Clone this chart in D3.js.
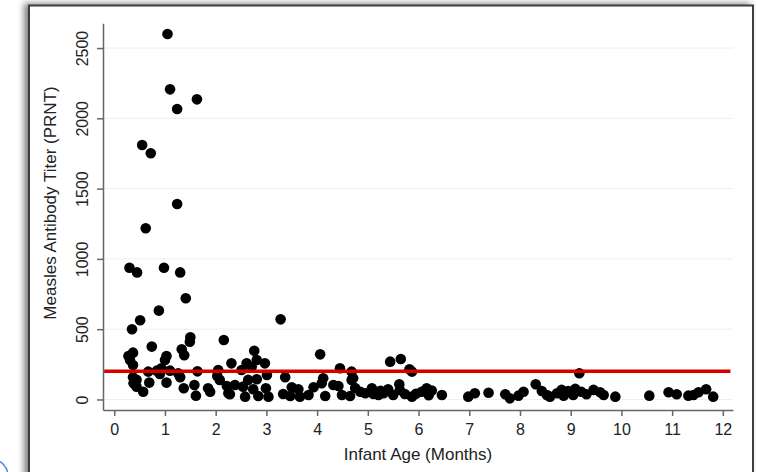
<!DOCTYPE html>
<html lang="en">
<head>
<meta charset="UTF-8" />
<script src="https://d3js.org/d3.v7.min.js"></script>
<title>Measles antibody titer by infant age</title>
<style>
    body { margin: 0; background: #fff; }
    .tick text { font-family: "Liberation Sans", Arial, sans-serif; font-size: 16px; fill: #222; }
    .axis-title { font-family: "Liberation Sans", Arial, sans-serif; font-size: 17px; fill: #222; }
    .grid line { stroke: #e8f1f2; stroke-width: 1; }
</style>
</head>
<body>
<svg id="chart" width="757" height="472"></svg>
<script>
    // infant age in months and PRNT titer
    const ageMonths = [
        1.05, 1.10, 1.63, 1.24, 0.55, 0.72, 1.24, 0.62, 0.30, 0.45, 0.98, 1.30, 1.41, 0.88, 0.51, 0.35, 3.28,
        2.16, 1.50, 1.49, 0.74, 1.33, 1.38, 1.03, 0.37, 0.28, 0.31, 1.00, 0.37, 0.67, 0.84, 0.93, 1.10, 1.26,
        0.90, 1.64, 2.05, 2.03, 0.37, 1.30, 0.38, 0.69, 1.03, 0.44, 0.57, 1.37, 1.58, 1.61, 1.85, 1.89, 2.08,
        2.25, 2.31, 0.44,
        2.76, 2.61, 2.81, 2.97, 2.71, 2.51, 3.37, 3.01, 2.64, 2.81, 2.22, 2.38, 2.54, 2.74, 2.99, 3.50, 3.63,
        3.93, 2.28, 2.58, 2.84, 3.04, 3.33, 3.47, 3.66, 3.83, 4.06, 4.45, 4.68, 4.12, 4.09, 4.32, 4.68, 4.42,
        4.16, 4.49, 4.65,
        5.44, 5.65, 5.82, 5.87, 4.75, 4.85, 5.08, 5.11, 5.31, 5.40, 5.50, 5.62, 5.63, 5.73, 5.87, 6.06, 6.16,
        6.26, 6.46, 6.98, 7.11, 4.71, 4.95, 5.21, 5.95, 6.20, 5.25,
        7.38, 7.71, 7.80, 7.97, 8.07, 8.31, 8.43, 8.59, 8.73, 8.86, 8.95, 9.05, 9.17, 9.21, 9.31, 9.45, 9.58,
        8.53, 8.82, 9.09,
        9.65, 9.88, 10.55, 10.93, 11.09, 11.32, 11.42, 11.52, 11.67, 11.81
    ];
    const titer = [
        2600, 2206, 2135, 2066, 1810, 1751, 1390, 1218, 937, 904, 937, 904, 720, 632, 563, 499, 570,
        423, 442, 411, 376, 357, 314, 309, 333, 309, 281, 281, 245, 198, 205, 222, 205, 186,
        181, 200, 210, 167, 158, 158, 115, 120, 120, 91, 55, 80, 103, 27, 80, 55, 139,
        44, 257, 140,
        347, 257, 281, 257, 233, 210, 158, 174, 139, 144, 96, 103, 91, 73, 80, 87, 73,
        87, 37, 20, 25, 20, 39, 25, 20, 32, 321, 222, 198, 151, 115, 103, 139, 96,
        25, 32, 25,
        269, 288, 215, 198, 82, 55, 80, 39, 44, 73, 32, 108, 68, 39, 20, 55, 80,
        63, 32, 20, 44, 151, 44, 32, 40, 30, 62,
        48, 37, 8, 27, 55, 108, 60, 20, 44, 27, 60, 32, 186, 55, 37, 68, 51,
        32, 68, 75,
        32, 20, 27, 51, 37, 27, 32, 51, 73, 20
    ];
    const xTicks = [0, 1, 2, 3, 4, 5, 6, 7, 8, 9, 10, 11, 12];
    const yTicks = [0, 500, 1000, 1500, 2000, 2500];
    const cutoff = 200;

    const svg = d3.select("#chart");

    // frame with a soft shadow on the left
    const defs = svg.append("defs");
    const shadow = defs.append("filter").attr("id", "shadow")
        .attr("x", "-5%").attr("y", "-5%").attr("width", "110%").attr("height", "110%");
    shadow.append("feDropShadow")
        .attr("dx", -4).attr("dy", -1).attr("stdDeviation", 3)
        .attr("flood-color", "#000").attr("flood-opacity", 0.5);

    svg.append("rect")
        .attr("x", 29).attr("y", 5.5).attr("width", 724).attr("height", 490)
        .attr("fill", "#fff").attr("stroke", "#3c3c3c").attr("stroke-width", 2)
        .attr("filter", "url(#shadow)");

    // stray blue arc in the corner of the source image
    svg.append("circle")
        .attr("cx", -9).attr("cy", 476).attr("r", 17)
        .attr("fill", "none").attr("stroke", "#4a86d8").attr("stroke-width", 1.5);

    // scales: axis lines run a bit past the tick range, like the original
    const x = d3.scaleLinear().domain([-0.222, 12.2]).range([103, 733]);
    const y = d3.scaleLinear().domain([-75, 2676]).range([410, 23.3]);

    // gridlines
    svg.append("g").attr("class", "grid")
        .selectAll("line").data(yTicks).join("line")
        .attr("x1", x(-0.2)).attr("x2", x(12.2))
        .attr("y1", d => y(d)).attr("y2", d => y(d));

    // points
    const pts = ageMonths.map((a, i) => ({ age: a, titer: titer[i] }));
    svg.append("g")
        .selectAll("circle").data(pts).join("circle")
        .attr("cx", d => x(d.age))
        .attr("cy", d => y(d.titer))
        .attr("r", 5.3)
        .attr("fill", "#000");

    // protective cutoff line
    svg.append("line")
        .attr("x1", x(-0.2)).attr("x2", x(12.15))
        .attr("y1", y(cutoff)).attr("y2", y(cutoff))
        .attr("stroke", "#d40000").attr("stroke-width", 3.5);

    // x axis
    const xAxis = svg.append("g")
        .attr("transform", "translate(0,410)")
        .call(d3.axisBottom(x).tickValues(xTicks).tickSize(6).tickSizeOuter(0));
    xAxis.select(".domain").attr("stroke", "#666").attr("stroke-width", 1.5);
    xAxis.selectAll(".tick line").attr("stroke", "#666").attr("stroke-width", 1.5);
    xAxis.selectAll(".tick text").attr("y", 14);

    // y axis, labels turned sideways
    const yAxis = svg.append("g")
        .attr("transform", "translate(103,0)")
        .call(d3.axisLeft(y).tickValues(yTicks).tickFormat(d3.format("d")).tickSize(6).tickSizeOuter(0));
    yAxis.select(".domain").attr("stroke", "#666").attr("stroke-width", 1.5);
    yAxis.selectAll(".tick line").attr("stroke", "#666").attr("stroke-width", 1.5);
    yAxis.selectAll(".tick text")
        .attr("x", null).attr("dy", null)
        .attr("text-anchor", "middle")
        .attr("transform", "translate(-15,0) rotate(-90)");

    // axis titles
    svg.append("text").attr("class", "axis-title")
        .attr("x", 418).attr("y", 460)
        .attr("text-anchor", "middle")
        .text("Infant Age (Months)");

    svg.append("text").attr("class", "axis-title")
        .attr("transform", "translate(56,203) rotate(-90)")
        .attr("text-anchor", "middle")
        .text("Measles Antibody Titer (PRNT)");
</script>
</body>
</html>
